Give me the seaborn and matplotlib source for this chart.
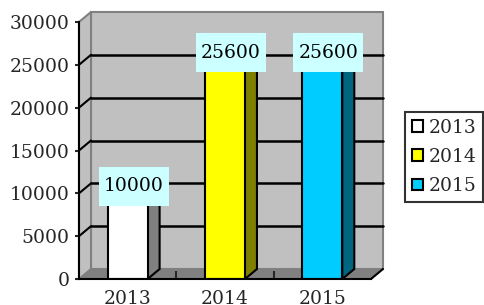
import numpy as np
import matplotlib
matplotlib.use('Agg')
import matplotlib.pyplot as plt
import seaborn as sns
from matplotlib.patches import Polygon, Rectangle, Patch
from matplotlib.transforms import ScaledTranslation

# chart data
years = ['2013', '2014', '2015']
values = [10000, 25600, 25600]
front_colors = ['#FFFFFF', '#FFFF00', '#00CCFF']
side_colors = ['#808080', '#808000', '#006680']
y_ticks = [0, 5000, 10000, 15000, 20000, 25000, 30000]

sns.set_style('white')
plt.rcParams['font.family'] = ['DejaVu Serif']

W, H = 484, 305
fig = plt.figure(figsize=(W / 100, H / 100), dpi=100)
ax_l, ax_b, ax_w, ax_h = 79, 26, 292, 257
ax = fig.add_axes([ax_l / W, ax_b / H, ax_w / W, ax_h / H])
ax.set_xlim(-0.5, 2.5)
ax.set_ylim(0, 30000)

# depth offset of the fake 3D box, in data units
DX = 12 / ax_w * 3.0
DY = 10 / ax_h * 30000
x0, x1 = -0.5, 2.5
ymax = 30000

# back wall, left wall and floor
ax.add_patch(Polygon([(x0 + DX, DY), (x1 + DX, DY), (x1 + DX, ymax + DY), (x0 + DX, ymax + DY)],
                     facecolor='#C0C0C0', edgecolor='#808080', lw=1.5, zorder=0, clip_on=False))
ax.add_patch(Polygon([(x0, 0), (x0 + DX, DY), (x0 + DX, ymax + DY), (x0, ymax)],
                     facecolor='#C0C0C0', edgecolor='#808080', lw=1.5, zorder=0, clip_on=False))
ax.add_patch(Polygon([(x0, 0), (x1, 0), (x1 + DX, DY), (x0 + DX, DY)],
                     facecolor='#808080', edgecolor='none', zorder=0.5, clip_on=False))
ax.plot([x1, x1 + DX], [0, DY], color='black', lw=1.5, clip_on=False, zorder=0.6)

for t in y_ticks[1:-1]:
    ax.plot([x0 + DX, x1 + DX], [t + DY, t + DY], color='black', lw=1.8, zorder=0.6, clip_on=False)
    ax.plot([x0, x0 + DX], [t, t + DY], color='black', lw=1.5, zorder=0.6, clip_on=False)

# front faces of the bars
sns.barplot(x=years, y=values, hue=years, palette=front_colors, width=0.41, saturation=1,
            edgecolor='black', linewidth=1.5, legend=False, ax=ax, zorder=2)

for bar, sc, fc in zip(ax.patches[-3:], side_colors, front_colors):
    bx, bw, bh = bar.get_x(), bar.get_width(), bar.get_height()
    ax.add_patch(Polygon([(bx + bw, 0), (bx + bw + DX, DY), (bx + bw + DX, bh + DY), (bx + bw, bh)],
                         facecolor=sc, edgecolor='black', lw=1.5, zorder=1.9, clip_on=False))
    ax.add_patch(Polygon([(bx, bh), (bx + bw, bh), (bx + bw + DX, bh + DY), (bx + DX, bh + DY)],
                         facecolor=fc, edgecolor='black', lw=1.5, zorder=1.9, clip_on=False))
    # value label box
    cx, cy = bx + bw / 2 + DX / 2, bh + DY * 0.7
    tr = fig.dpi_scale_trans + ScaledTranslation(cx, cy, ax.transData)
    ax.add_patch(Rectangle((-0.35, -0.195), 0.70, 0.39, transform=tr,
                           facecolor='#CCFFFF', edgecolor='none', zorder=3, clip_on=False))
    ax.text(cx, cy, f'{int(bh)}', ha='center', va='center', fontsize=13.5,
            color='black', zorder=4, clip_on=False)

# axes styling
for s in ['top', 'right']:
    ax.spines[s].set_visible(False)
for s in ['left', 'bottom']:
    ax.spines[s].set_color('black')
    ax.spines[s].set_linewidth(1.5)
    ax.spines[s].set_zorder(5)
ax.set_yticks(y_ticks)
ax.set_yticklabels([str(t) for t in y_ticks])
ax.tick_params(axis='y', length=3, width=1.5, direction='out', pad=4, labelsize=13.5, left=True)
ax.set_xticks([0, 1, 2])
ax.set_xticklabels(years)
ax.tick_params(axis='x', length=0, pad=8, labelsize=13.5)
ax.set_xticks([0.5, 1.5], minor=True)
ax.tick_params(axis='x', which='minor', length=6, width=1.5, direction='in', bottom=True)
ax.set_xlabel('')
ax.set_ylabel('')
ax.grid(False)
ax.set_facecolor('none')

# legend
handles = [Patch(facecolor=c, edgecolor='black', lw=1.5) for c in front_colors]
leg = fig.legend(handles, years, loc='upper left', bbox_to_anchor=(405 / W, 1 - 112 / H),
                 fontsize=13.5, frameon=True, fancybox=False, handlelength=0.6, handleheight=0.6,
                 handletextpad=0.3, labelspacing=0.6, borderpad=0.35, borderaxespad=0)
leg.get_frame().set_edgecolor('black')
leg.get_frame().set_linewidth(1.5)

fig.savefig('out.png', dpi=100)
